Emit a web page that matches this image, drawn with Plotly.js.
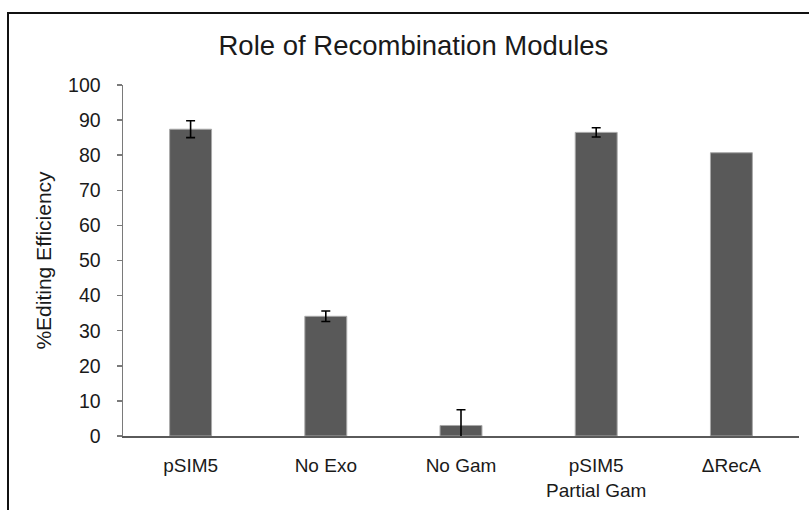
<!DOCTYPE html>
<html>
<head>
<meta charset="utf-8">
<script src="https://cdn.plot.ly/plotly-3.0.1.min.js"></script>
<style>
  html, body { margin: 0; padding: 0; background: #fff; }
  #wrap { position: relative; width: 809px; height: 510px; overflow: hidden; }
  #chart { width: 809px; height: 510px; }
  #frame { position: absolute; left: 7px; top: 12px; width: 900px; height: 600px;
           border-top: 2px solid #111; border-left: 2px solid #111; pointer-events: none; }
</style>
</head>
<body>
<div id="wrap">
  <div id="chart"></div>
  <div id="frame"></div>
</div>
<script>
// Recombination module constructs and their editing efficiency (%)
const categories = ["pSIM5", "No Exo", "No Gam", "pSIM5<br>Partial Gam", "\u0394RecA"];
const efficiency = [87.4, 34.1, 3.0, 86.5, 80.7];
const errorSD = [2.4, 1.5, 4.5, 1.3, NaN];
const yTicks = [0, 10, 20, 30, 40, 50, 60, 70, 80, 90, 100];

const FONT = "Liberation Sans, Arial, sans-serif";

const trace = {
  type: "bar",
  x: categories,
  y: efficiency,
  width: 0.31,
  marker: { color: "#595959", line: { color: "#a8a8a8", width: 1 } },
  error_y: { type: "data", array: errorSD, visible: true, color: "#000", thickness: 1.6, width: 4.5 },
  hoverinfo: "x+y"
};

const layout = {
  width: 809, height: 510,
  margin: { l: 123, r: 10, t: 85, b: 74 },
  paper_bgcolor: "#fff", plot_bgcolor: "#fff",
  showlegend: false,
  title: {
    text: "Role of Recombination Modules",
    font: { family: FONT, size: 27.5, color: "#1a1a1a" },
    x: 0.511, xanchor: "center", xref: "container",
    y: 0.912, yanchor: "middle", yref: "container"
  },
  xaxis: {
    type: "category",
    showline: true, linecolor: "#5a5a5a", linewidth: 2,
    ticks: "", showgrid: false, zeroline: false,
    tickfont: { family: FONT, size: 19, color: "#1a1a1a" },
    ticklabelstandoff: 11
  },
  yaxis: {
    range: [0, 100], tickvals: yTicks, ticktext: yTicks.map(String),
    showline: true, linecolor: "#7a7a7a", linewidth: 1.5,
    ticks: "outside", ticklen: 5, tickcolor: "#7a7a7a", tickwidth: 1.5,
    showgrid: false, zeroline: false,
    tickfont: { family: FONT, size: 19.5, color: "#1a1a1a" },
    ticklabelstandoff: 12,
    title: { text: "%Editing Efficiency", font: { family: FONT, size: 21, color: "#1a1a1a" }, standoff: 10 }
  }
};

Plotly.newPlot("chart", [trace], layout, { staticPlot: true, displayModeBar: false });
</script>
</body>
</html>
